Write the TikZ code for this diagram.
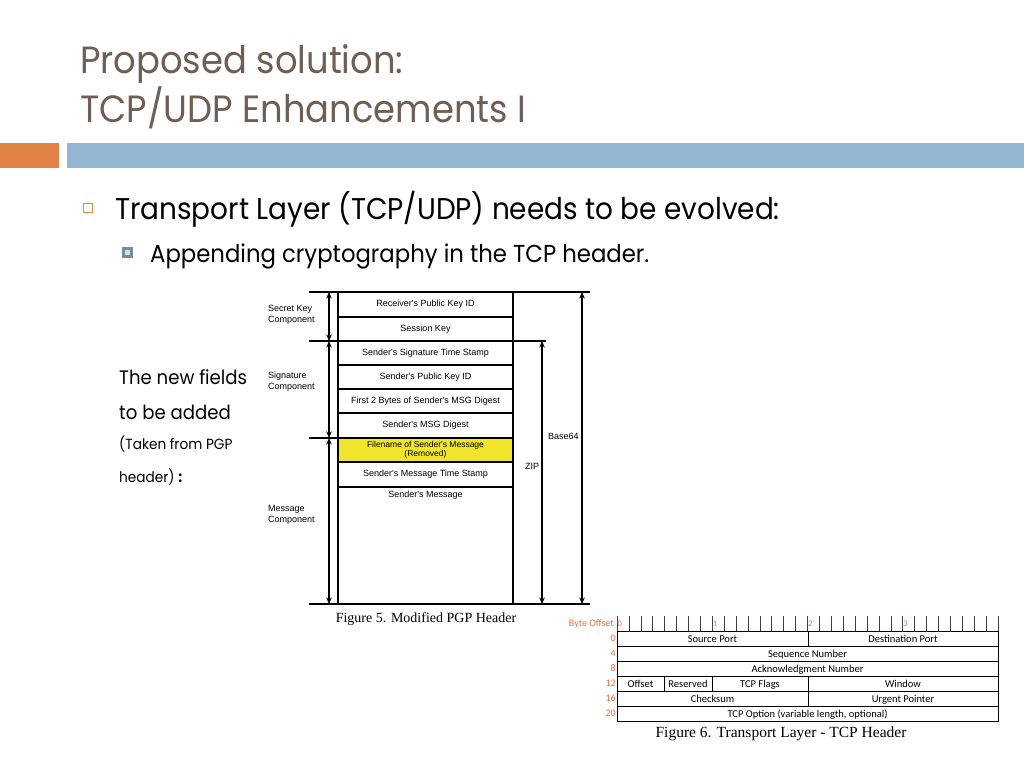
\documentclass[tikz,border=0pt]{standalone}
\usepackage{fontspec}
\setmainfont{Poppins}[FakeStretch=0.93]
\newfontfamily\pgpfont{Liberation Sans}
\newfontfamily\capfont{Liberation Serif}
\newfontfamily\tcpfont{Carlito}
\usepackage{xcolor}
\usetikzlibrary{positioning,arrows.meta,calc}

\definecolor{titlebrown}{RGB}{110,94,84}
\definecolor{barorange}{RGB}{223,130,68}
\definecolor{barblue}{RGB}{148,182,210}
\definecolor{bulletblue}{RGB}{143,176,204}
\definecolor{pgpyellow}{RGB}{240,229,42}
\definecolor{tcporange}{RGB}{232,112,58}

\begin{document}
\begin{tikzpicture}[x=1pt, y=-1pt,
  slidetitle/.style={anchor=base west, inner sep=0, text=titlebrown, font=\fontsize{38}{46}\selectfont},
  bodytext/.style={anchor=base west, inner sep=0, text=black},
  row/.style={draw, line width=1.2pt, minimum width=175pt, inner sep=0, outer sep=0, font=\pgpfont\fontsize{9}{10}\selectfont},
  side/.style={anchor=west, inner sep=0, align=left, font=\pgpfont\fontsize{9}{11}\selectfont},
  dimarr/.style={{Stealth[length=6.5pt,width=5.5pt]}-{Stealth[length=6.5pt,width=5.5pt]}, line width=1.2pt},
  rule/.style={line width=1.2pt},
  field/.style={draw, line width=0.8pt, minimum height=15pt, text height=7pt, text depth=0pt, inner sep=0, outer sep=0, anchor=north west, font=\tcpfont\fontsize{10.5}{11}\selectfont},
  offs/.style={anchor=east, inner sep=1pt, text=tcporange, font=\tcpfont\fontsize{10}{11}\selectfont},
  caption/.style={inner sep=0, font=\capfont\fontsize{14}{16}\selectfont}
]
\useasboundingbox (0,0) rectangle (1024,768);

% title and bars
\node[slidetitle] (t1) at (80,73) {Proposed solution:};
\node[slidetitle] (t2) at (80,122) {TCP/UDP Enhancements I};
\fill[barorange] (0,143) rectangle (59,168);
\fill[barblue] (67,143) rectangle (1024,168);

% bullets
\draw[barorange, line width=0.8pt] (83,203) rectangle (92,212);
\node[bodytext, font=\fontsize{30}{36}\selectfont] (b1) at (115,219) {Transport Layer (TCP/UDP) needs to be evolved:};
\fill[bulletblue!80!black] (122,247) rectangle (133,258);
\fill[bulletblue!40] (125,250) rectangle (130,255);
\node[bodytext, font=\fontsize{24.5}{30}\selectfont] (b2) at (150,262) {Appending cryptography in the TCP header.};

\node[bodytext, font=\fontsize{19.5}{24}\selectfont] (n1) at (119,384) {The new fields};
\node[bodytext, font=\fontsize{19.5}{24}\selectfont] (n2) at (119,419) {to be added};
\node[bodytext, font=\fontsize{14.7}{18}\selectfont] (n3) at (119,449) {(Taken from PGP};
\node[bodytext, font=\fontsize{14.7}{18}\selectfont] (n4) at (119,482) {header) \textbf{:}};

% modified PGP header
\node[row, minimum height=25pt, anchor=north] (rpk) at (425.5,292) {Receiver's Public Key ID};
\node[row, minimum height=24pt, below=0pt of rpk] (skey) {Session Key};
\node[row, minimum height=24pt, below=0pt of skey] (sts) {Sender's Signature Time Stamp};
\node[row, minimum height=24pt, below=0pt of sts] (spk) {Sender's Public Key ID};
\node[row, minimum height=24pt, below=0pt of spk] (f2b) {First 2 Bytes of Sender's MSG Digest};
\node[row, minimum height=25pt, below=0pt of f2b] (dig) {Sender's MSG Digest};
\node[row, minimum height=24pt, below=0pt of dig, fill=pgpyellow, align=center, font=\pgpfont\fontsize{8.5}{9}\selectfont] (fname) {Filename of Sender's Message\\(Removed)};
\node[row, minimum height=25pt, below=0pt of fname] (mts) {Sender's Message Time Stamp};
\node[row, minimum height=117pt, below=0pt of mts,
  label={[anchor=north, inner sep=0, yshift=-4pt, font=\pgpfont\fontsize{9}{10}\selectfont]north:Sender's Message}] (msg) {};

\coordinate (a0) at (329,292);
\coordinate (a1) at (329,341);
\coordinate (a2) at (329,438);
\coordinate (a3) at (329,604);
\coordinate (z0) at (542,341);
\coordinate (z1) at (542,604);
\coordinate (e0) at (582,292);
\coordinate (e1) at (582,604);

\draw[rule] (309,292) -- (590,292);
\draw[rule] (309,341) -- (546,341);
\draw[rule] (309,438) -- (rpk.west |- fname.north);
\draw[rule] (309,604) -- (590,604);

\draw[dimarr] (a0) -- (a1);
\draw[dimarr] (a1) -- (a2);
\draw[dimarr] (a2) -- (a3);
\draw[dimarr] (z0) -- (z1);
\draw[dimarr] (e0) -- (e1);

\node[side] (skc) at (268,314.5) {Secret Key\\Component};
\node[side] (sgc) at (268,381.5) {Signature\\Component};
\node[side] (mgc) at (268,515) {Message\\Component};
\node[side] (b64) at (548,436) {Base64};
\node[side] (zip) at (525,466) {ZIP};
\node[caption] (cap5) at (426,619) {Figure 5. Modified PGP Header};

% TCP header
\node[offs] (bo) at (615,624) {Byte Offset};
\foreach \k in {0,...,32}
  \draw[line width=0.6pt, black!75] (617+\k*11.906,616) -- (617+\k*11.906,631);
\foreach \k/\b in {0/0,8/1,16/2,24/3}
  \node[anchor=west, inner sep=0.5pt, text=tcporange, font=\tcpfont\fontsize{8.5}{9}\selectfont] at (617+\k*11.906,624) {\b};

\node[field, minimum width=191pt] (sport) at (617,631) {Source Port};
\node[field, minimum width=190pt, right=0pt of sport.north east, anchor=north west] (dport) {Destination Port};
\node[field, minimum width=381pt, below=0pt of sport.south west, anchor=north west] (seq) {Sequence Number};
\node[field, minimum width=381pt, below=0pt of seq.south west, anchor=north west] (ack) {Acknowledgment Number};
\node[field, minimum width=47pt, below=0pt of ack.south west, anchor=north west] (off) {Offset};
\node[field, minimum width=48pt, right=0pt of off.north east, anchor=north west] (resv) {Reserved};
\node[field, minimum width=96pt, right=0pt of resv.north east, anchor=north west] (flags) {TCP Flags};
\node[field, minimum width=190pt, right=0pt of flags.north east, anchor=north west] (win) {Window};
\node[field, minimum width=191pt, below=0pt of off.south west, anchor=north west] (csum) {Checksum};
\node[field, minimum width=190pt, right=0pt of csum.north east, anchor=north west] (urg) {Urgent Pointer};
\node[field, minimum width=381pt, below=0pt of csum.south west, anchor=north west] (opt) {TCP Option (variable length, optional)};

\node[offs] (o0) at (sport.west) {0};
\node[offs] (o4) at (seq.west) {4};
\node[offs] (o8) at (ack.west) {8};
\node[offs] (o12) at (off.west) {12};
\node[offs] (o16) at (csum.west) {16};
\node[offs] (o20) at (opt.west) {20};

\node[caption, font=\capfont\fontsize{15.5}{17}\selectfont] (cap6) at (781,734) {Figure 6. Transport Layer - TCP Header};
\end{tikzpicture}
\end{document}
